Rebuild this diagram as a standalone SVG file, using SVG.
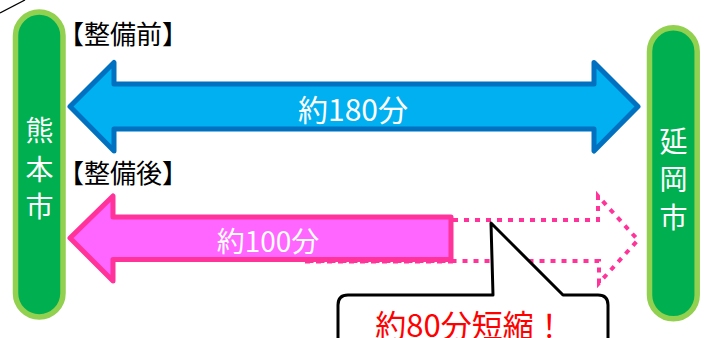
<svg xmlns="http://www.w3.org/2000/svg" width="707" height="338" viewBox="0 0 707 338">
<style>
text{font-family:"Noto Sans CJK JP","Noto Sans",sans-serif}
.pill{fill:#00B050;stroke:#92D050;stroke-width:5.5}
.city{fill:#fff;font-size:28px;text-anchor:middle}
.lbl{fill:#000;font-size:26px}
.dot{fill:none;stroke:#FF3399;stroke-width:4;stroke-dasharray:5 6}
</style>
<rect width="707" height="338" fill="#fff"/>
<line x1="0" y1="13" x2="25" y2="0" stroke="#000" stroke-width="1.3"/>
<g id="kumamoto">
<rect class="pill" x="15.5" y="12" width="47.5" height="305" rx="23.75"/>
<text class="city" x="39.5" y="141">熊</text>
<text class="city" x="39.5" y="180">本</text>
<text class="city" x="39.5" y="217">市</text>
</g>
<g id="nobeoka">
<rect class="pill" x="649.5" y="27.8" width="47.7" height="291" rx="23.8"/>
<text class="city" x="673.5" y="152">延</text>
<text class="city" x="673.5" y="190">岡</text>
<text class="city" x="673.5" y="228">市</text>
</g>
<g id="label-before"><text class="lbl" x="58" y="44">【整備前】</text></g>
<g id="label-after"><text class="lbl" x="58" y="183">【整備後】</text></g>
<g id="connectors">
<g id="arrow-before">
<path d="M70,106.5 L114,62.5 L114,84 L594,84 L594,62.5 L638,106.5 L594,151 L594,129 L114,129 L114,151 Z" fill="#00B0F0" stroke="#0070C0" stroke-width="5" stroke-linejoin="round"/>
<text x="353" y="121" fill="#fff" font-size="30" text-anchor="middle">約180分</text>
</g>
<g id="arrow-after">
<path class="dot" d="M453,220 L598,220 L598,196 L638,240 L599,283 L599,261 L305,261"/>
<path d="M70,238 L113,196 L113,217 L451,217 L451,259.5 L113,259.5 L113,281 Z" fill="#FF66FF" stroke="#FF3399" stroke-width="5" stroke-linejoin="round"/>
<path class="dot" d="M305,261.5 L453,261.5"/>
<text x="268" y="252" fill="#fff" font-size="28" text-anchor="middle">約100分</text>
</g>
</g>
<g id="callout">
<path d="M493,295 L491,223 L563,295 L598,295 Q608,295 608,305 L608,345 L338,345 L338,305 Q338,295 348,295 Z" fill="#fff" stroke="#000" stroke-width="3" stroke-linejoin="round"/>
<text x="470" y="337" fill="#FF0000" font-size="31" text-anchor="middle">約80分短縮！</text>
</g>
</svg>
